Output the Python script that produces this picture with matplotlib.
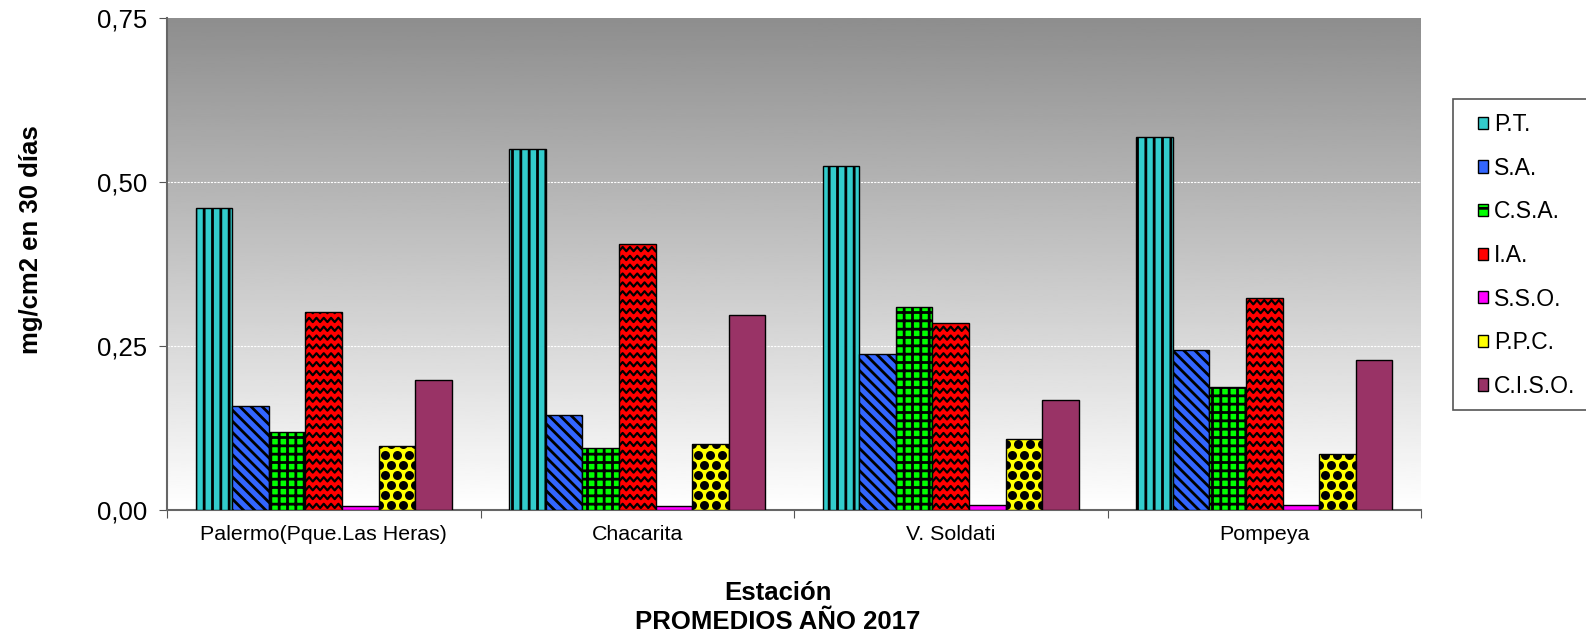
import numpy as np
import matplotlib
matplotlib.use("Agg")
import matplotlib.pyplot as plt
from matplotlib.patches import Patch, Rectangle

plt.rcParams['font.family'] = ['Liberation Sans', 'DejaVu Sans']
plt.rcParams['hatch.linewidth'] = 2.0

estaciones = ['Palermo(Pque.Las Heras)', 'Chacarita', 'V. Soldati', 'Pompeya']
series = ['P.T.', 'S.A.', 'C.S.A.', 'I.A.', 'S.S.O.', 'P.P.C.', 'C.I.S.O.']
pt = [0.461, 0.551, 0.525, 0.569]
sa = [0.159, 0.145, 0.238, 0.244]
csa = [0.119, 0.094, 0.310, 0.188]
ia = [0.302, 0.406, 0.285, 0.323]
sso = [0.006, 0.006, 0.008, 0.008]
ppc = [0.097, 0.100, 0.108, 0.085]
ciso = [0.198, 0.298, 0.168, 0.228]
valores = [pt, sa, csa, ia, sso, ppc, ciso]

colores = ['#33CCCC', '#3366FF', '#00FF00', '#FF0000', '#FF00FF', '#FFFF00', '#993366']
tramas = ['||', '\\\\\\', '++', '', '', '', '']

W, H = 1586, 637
fig = plt.figure(figsize=(W / 100, H / 100), dpi=100)
ax = fig.add_axes([167 / W, 1 - 510 / H, (1421 - 167) / W, (510 - 18) / H])

# fondo degradado gris -> blanco
grad = np.linspace(0, 1, 256).reshape(-1, 1)
ax.imshow(grad, extent=[0, 1, 0, 1], transform=ax.transAxes, cmap='gray',
          vmin=-1.25, vmax=1, aspect='auto', zorder=0)

x = np.arange(len(estaciones))
w = 0.1165
for i, (vals, c, h) in enumerate(zip(valores, colores, tramas)):
    pos = x + (i - 3) * w
    bars = ax.bar(pos, vals, w, color=c, edgecolor='black', linewidth=1,
                  hatch=h, zorder=3)
    if series[i] == 'I.A.':
        # zigzag sobre la barra
        for b in bars:
            x0, bw, bh = b.get_x(), b.get_width(), b.get_height()
            xs = np.linspace(x0, x0 + bw, 11)
            amp = np.where(np.arange(11) % 2 == 0, 0.0, 0.0065)
            for y0 in np.arange(0.003, bh + 0.014, 0.0135):
                ln, = ax.plot(xs, y0 + amp, color='black', lw=1.6, zorder=4)
                ln.set_clip_path(b)
    if series[i] == 'P.P.C.':
        # puntos negros sobre amarillo
        for b in bars:
            x0, bw, bh = b.get_x(), b.get_width(), b.get_height()
            for k, y0 in enumerate(np.arange(0.007, bh + 0.016, 0.0155)):
                off = 0.5 * (k % 2)
                xs = x0 + bw * (np.arange(-1, 4) + off) / 3
                sc = ax.scatter(xs, np.full(len(xs), y0), s=42, c='black',
                                linewidths=0, zorder=4)
                sc.set_clip_path(b)

ax.set_xlim(-0.5, len(estaciones) - 0.5)
ax.set_ylim(0, 0.75)
ax.set_yticks([0, 0.25, 0.5, 0.75])
ax.set_yticklabels(['0,00', '0,25', '0,50', '0,75'], fontsize=18.5)
for yv in [0.25, 0.5]:
    ax.axhline(yv, color='white', lw=0.8, ls=(0, (2, 1)), zorder=1)

ax.set_xticks(np.arange(-0.5, len(estaciones), 1))
ax.set_xticklabels([])
ax.set_xticks(x, minor=True)
ax.set_xticklabels(estaciones, minor=True, fontsize=15.4)
ax.tick_params(axis='x', which='minor', length=0, pad=11)
ax.tick_params(axis='x', which='major', length=6, color='#555555')
ax.tick_params(axis='y', length=6, color='#555555', pad=8)

for s in ['top', 'right']:
    ax.spines[s].set_visible(False)
for s in ['left', 'bottom']:
    ax.spines[s].set_color('#666666')
    ax.spines[s].set_linewidth(1.5)

fig.text(31 / W, 1 - 240 / H, 'mg/cm2 en 30 días', rotation=90, ha='center',
         va='center', fontsize=18.5, fontweight='bold')
fig.text(778 / W, 1 - 600 / H, 'Estación', ha='center',
         va='baseline', fontsize=18.5, fontweight='bold')
fig.text(778 / W, 1 - 629 / H, 'PROMEDIOS AÑO 2017', ha='center',
         va='baseline', fontsize=18.5, fontweight='bold')

# marco de la leyenda
fig.patches.append(Rectangle((1453 / W, 1 - 410 / H), 140 / W, 311 / H,
                             transform=fig.transFigure, facecolor='white',
                             edgecolor='#555555', linewidth=1.2, zorder=1))

handles = []
for s_, c, h in zip(series, colores, tramas):
    handles.append(Patch(facecolor=c, edgecolor='black', hatch=h[:1]))
leg = fig.legend(handles, series, loc='upper left',
                 bbox_to_anchor=(1478 / W, 1 - 113 / H),
                 fontsize=16.5, frameon=False, handlelength=0.45,
                 handleheight=0.45, handletextpad=0.25, labelspacing=0.9,
                 borderpad=0, borderaxespad=0)
leg.set_zorder(2)

fig.savefig('out.png', dpi=100)
